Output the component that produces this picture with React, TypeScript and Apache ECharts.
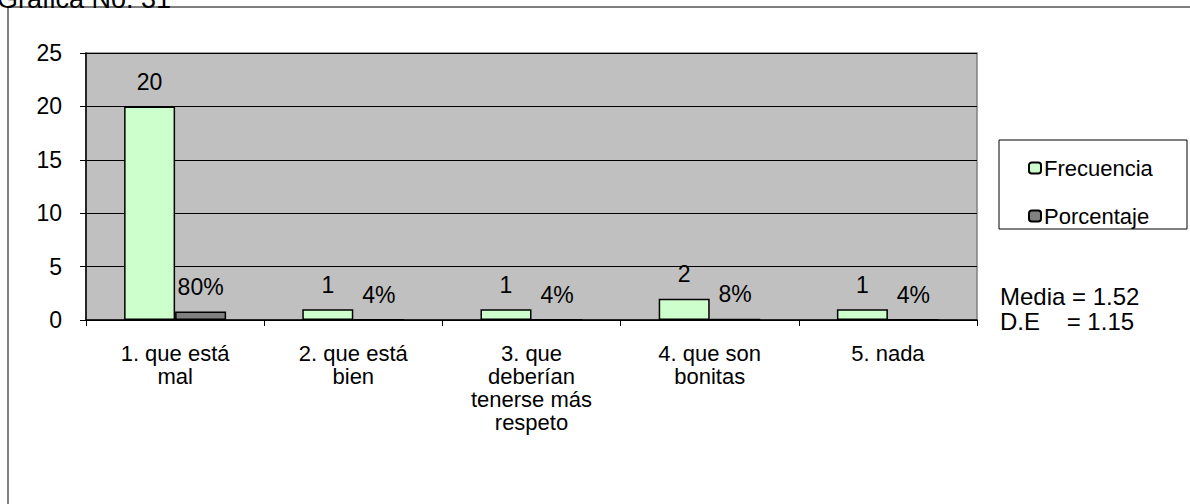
import React, { useEffect, useRef } from "react";
import * as echarts from "echarts";

const categories = [
  "1. que está\nmal",
  "2. que está\nbien",
  "3. que\ndeberían\ntenerse más\nrespeto",
  "4. que son\nbonitas",
  "5. nada",
];
const frecuencia = [20, 1, 1, 2, 1];
const porcentaje = [0.8, 0.04, 0.04, 0.08, 0.04];
const yTicks = { min: 0, max: 25, interval: 5 };
const title = "Gráfica No. 31";
const statsLines = ["Media = 1.52", "D.E    = 1.15"];

const FONT = "Liberation Sans, Arial, sans-serif";
const FS = 23;

export default function App() {
  const ref = useRef<HTMLDivElement>(null);
  useEffect(() => {
    if (!ref.current) return;
    const chart = echarts.init(ref.current, null, { renderer: "svg" });
    chart.setOption({
      animation: false,
      backgroundColor: "#fff",
      textStyle: { fontFamily: FONT },
      grid: { left: 86, top: 53, width: 891, height: 267, containLabel: false, show: true, backgroundColor: "#C0C0C0", borderColor: "#808080", borderWidth: 1.5 },
      legend: {
        orient: "vertical",
        left: 1023,
        top: 152,
        itemWidth: 12,
        itemHeight: 11,
        itemGap: 26,
        textStyle: { fontSize: 22, fontFamily: FONT, color: "#000", padding: [0, 0, 0, -2] },
        data: ["Frecuencia", "Porcentaje"],
      },
      xAxis: {
        type: "category",
        data: categories,
        axisLine: { lineStyle: { color: "#000", width: 1.5 } },
        axisTick: { show: true, inside: false, length: 6, lineStyle: { color: "#000" } },
        axisLabel: { fontSize: 22, color: "#000", fontFamily: FONT, margin: 22, lineHeight: 23, interval: 0 },
      },
      yAxis: {
        type: "value",
        min: yTicks.min,
        max: yTicks.max,
        interval: yTicks.interval,
        axisLine: { show: true, lineStyle: { color: "#000", width: 1.5 } },
        axisTick: { show: true, length: 6, lineStyle: { color: "#000" } },
        axisLabel: { fontSize: FS, color: "#000", fontFamily: FONT, margin: 24 },
        splitLine: { lineStyle: { color: "#000", width: 1 } },
      },
      series: [
        {
          name: "Frecuencia",
          type: "bar",
          data: frecuencia,
          barWidth: 51,
          barGap: "0%",
          itemStyle: { color: "#CCFFCC", borderColor: "#000", borderWidth: 1.5 },
          label: { show: true, position: "top", distance: 13, fontSize: FS, color: "#000", fontFamily: FONT },
        },
        {
          name: "Porcentaje",
          type: "bar",
          data: porcentaje,
          barWidth: 51,
          barGap: "0%",
          itemStyle: { color: "#808080", borderColor: "#000", borderWidth: 1.5 },
          label: {
            show: true,
            position: "top",
            distance: 13,
            fontSize: FS,
            color: "#000",
            fontFamily: FONT,
            formatter: (p: any) => Math.round(p.value * 100) + "%",
          },
        },
      ],
      graphic: [
        { type: "rect", shape: { x: 8, y: 7, width: 1300, height: 600 }, style: { fill: "none", stroke: "#000", lineWidth: 1 }, z: 10 },
        { type: "text", x: -3, y: 12, style: { text: title, fontSize: 27, fontFamily: FONT, fill: "#000", verticalAlign: "bottom" }, z: 9 },
        { type: "rect", shape: { x: 999, y: 140, width: 188, height: 89 }, style: { fill: "none", stroke: "#000", lineWidth: 1 }, z: 10 },
        { type: "text", x: 1000, y: 284, style: { text: statsLines.join("\n"), fontSize: 24, lineHeight: 25, fontFamily: FONT, fill: "#000" }, z: 11 },
      ],
    });
    return () => chart.dispose();
  }, []);
  return <div ref={ref} style={{ position: "absolute", left: 0, top: 0, width: 1190, height: 504 }} />;
}
